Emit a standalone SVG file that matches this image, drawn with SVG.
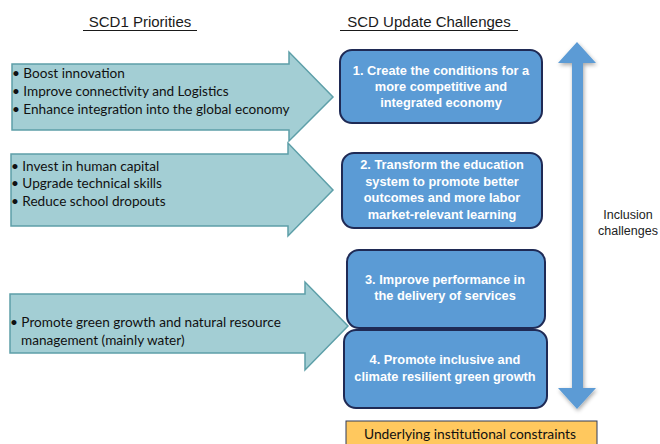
<svg xmlns="http://www.w3.org/2000/svg" width="660" height="444" viewBox="0 0 660 444">
  <style>
    .hdr { font-family: "Liberation Sans", Arial, sans-serif; font-size: 15px; fill: #1a1a1a; text-anchor: middle; }
    .pri { fill: #a3ced4; stroke: #5d9fa8; stroke-width: 1.5; }
    .pri-t { font-family: "Lato", "Liberation Sans", sans-serif; font-size: 13.6px; fill: #111; }
    .ch { fill: #5b9bd5; stroke: #1f2a55; stroke-width: 2; }
    .ch-t { font-family: "Liberation Sans", Arial, sans-serif; font-size: 12.8px; font-weight: bold; fill: #fff; text-anchor: middle; }
    .side { font-family: "Liberation Sans", Arial, sans-serif; font-size: 12.5px; fill: #222; text-anchor: middle; }
    .base { fill: #ffc85e; stroke: #2f3a5a; stroke-width: 1; }
    .base-t { font-family: "Lato", "Liberation Sans", sans-serif; font-size: 13.8px; fill: #111; text-anchor: middle; }
  </style>
  <defs>
    <filter id="shadow" x="-30%" y="-5%" width="160%" height="110%">
      <feGaussianBlur in="SourceAlpha" stdDeviation="2"/>
      <feOffset dx="1" dy="2" result="b"/>
      <feComponentTransfer><feFuncA type="linear" slope="0.35"/></feComponentTransfer>
      <feMerge><feMergeNode/><feMergeNode in="SourceGraphic"/></feMerge>
    </filter>
  </defs>

  <rect width="660" height="444" fill="#fff"/>

  <!-- column headings -->
  <g id="headings">
    <text class="hdr" x="140" y="27">SCD1 Priorities</text>
    <line x1="83" y1="30.5" x2="197" y2="30.5" stroke="#1a1a1a" stroke-width="1"/>
    <text class="hdr" x="429" y="27">SCD Update Challenges</text>
    <line x1="340" y1="30.5" x2="518" y2="30.5" stroke="#1a1a1a" stroke-width="1"/>
  </g>

  <!-- priority arrows -->
  <g id="priority-1">
    <polygon class="pri" points="12,64 289,64 289,52 333,97 289,141 289,130 12,130"/>
    <text class="pri-t" x="12" y="78">• Boost innovation</text>
    <text class="pri-t" x="12" y="96">• Improve connectivity and Logistics</text>
    <text class="pri-t" x="12" y="114">• Enhance integration into the global economy</text>
  </g>
  <g id="priority-2">
    <polygon class="pri" points="11,154 288,154 288,143 333,190 288,236 288,226 11,226"/>
    <text class="pri-t" x="11" y="171">• Invest in human capital</text>
    <text class="pri-t" x="11" y="188">• Upgrade technical skills</text>
    <text class="pri-t" x="11" y="206">• Reduce school dropouts</text>
  </g>
  <g id="priority-3">
    <polygon class="pri" points="10,294 305,294 305,282 348,326 305,370 305,353 10,353"/>
    <text class="pri-t" x="10" y="327">• Promote green growth and natural resource</text>
    <text class="pri-t" x="21" y="345">management (mainly water)</text>
  </g>

  <!-- update challenges -->
  <g id="challenge-1">
    <rect class="ch" x="340" y="50" width="202" height="73" rx="12"/>
    <text class="ch-t" x="441" y="75">1. Create the conditions for a</text>
    <text class="ch-t" x="441" y="91">more competitive and</text>
    <text class="ch-t" x="441" y="107">integrated economy</text>
  </g>
  <g id="challenge-2">
    <rect class="ch" x="342" y="153" width="200" height="75" rx="12"/>
    <text class="ch-t" x="442" y="169">2. Transform the education</text>
    <text class="ch-t" x="442" y="186">system to promote better</text>
    <text class="ch-t" x="442" y="202">outcomes and more labor</text>
    <text class="ch-t" x="442" y="219">market-relevant learning</text>
  </g>
  <g id="challenge-3">
    <rect class="ch" x="347" y="250" width="198" height="78" rx="12"/>
    <text class="ch-t" x="445" y="284">3. Improve performance in</text>
    <text class="ch-t" x="445" y="300">the delivery of services</text>
  </g>
  <g id="challenge-4">
    <rect class="ch" x="344" y="330" width="203" height="78" rx="12"/>
    <text class="ch-t" x="445" y="364">4. Promote inclusive and</text>
    <text class="ch-t" x="445" y="381">climate resilient green growth</text>
  </g>

  <!-- inclusion axis -->
  <g id="inclusion">
    <polygon fill="#5b9bd5" filter="url(#shadow)" points="577,42 596,63 583,63 583,388 596,388 577,409 558,388 572,388 572,63 558,63"/>
    <text class="side" x="628" y="219">Inclusion</text>
    <text class="side" x="628" y="235">challenges</text>
  </g>

  <!-- institutional base -->
  <g id="constraints">
    <rect class="base" x="346" y="421" width="251" height="30"/>
    <text class="base-t" x="470" y="439">Underlying institutional constraints</text>
  </g>
</svg>
